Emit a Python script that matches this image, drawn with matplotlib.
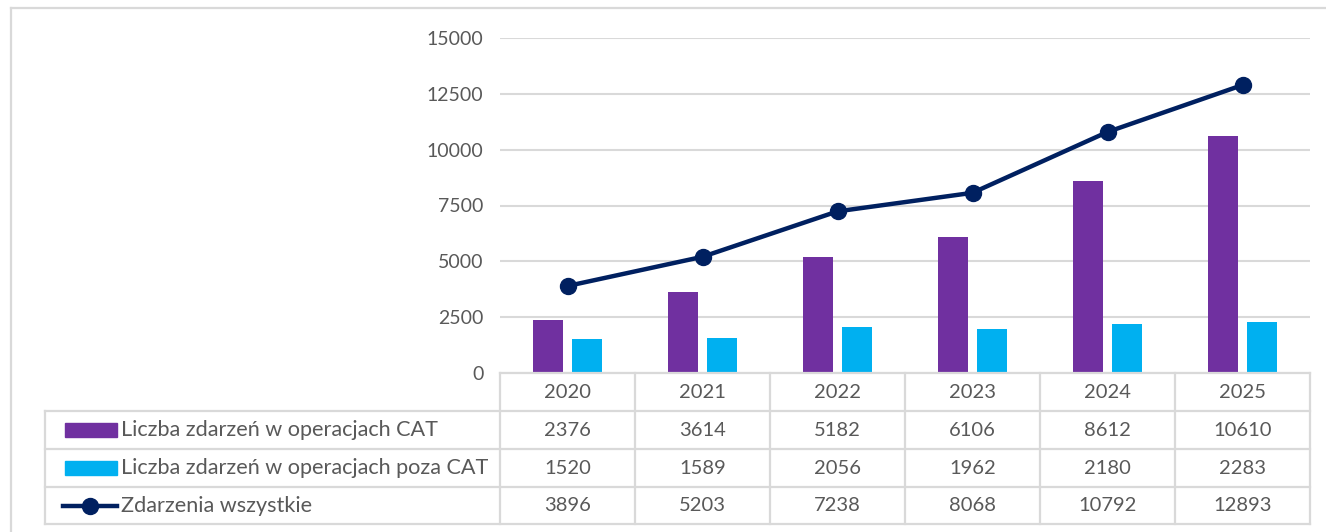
import numpy as np
import matplotlib
matplotlib.use("Agg")
import matplotlib.pyplot as plt
from matplotlib.patches import Rectangle
from matplotlib.lines import Line2D

# === Data ===
years = ["2020", "2021", "2022", "2023", "2024", "2025"]
cat_events = [2376, 3614, 5182, 6106, 8612, 10610]
non_cat_events = [1520, 1589, 2056, 1962, 2180, 2283]
all_events = [3896, 5203, 7238, 8068, 10792, 12893]
series_names = ["Liczba zdarzeń w operacjach CAT",
                "Liczba zdarzeń w operacjach poza CAT",
                "Zdarzenia wszystkie"]
y_ticks = [0, 2500, 5000, 7500, 10000, 12500, 15000]

PURPLE = "#7030A0"
CYAN = "#00B0F0"
NAVY = "#002060"
GRID = "#D9D9D9"
TXT = "#595959"

plt.rcParams['font.family'] = ['Lato', 'DejaVu Sans']

W, H = 1326, 532
fig = plt.figure(figsize=(W / 100, H / 100), dpi=100)

# plot area in pixels
px_left, px_right, px_top, px_bottom = 500, 1310, 38, 373
ax = fig.add_axes([px_left / W, 1 - px_bottom / H,
                   (px_right - px_left) / W, (px_bottom - px_top) / H])

x = np.arange(len(years))
bw = 0.222
ax.bar(x - 0.148, cat_events, width=bw, color=PURPLE, zorder=3)
ax.bar(x + 0.148, non_cat_events, width=bw, color=CYAN, zorder=3)
ax.plot(x, all_events, color=NAVY, lw=3.2, marker='o', ms=11.5, zorder=4)

ax.set_xlim(-0.5, len(years) - 0.5)
ax.set_ylim(0, 15000)
ax.set_yticks(y_ticks)
ax.set_yticklabels([str(v) for v in y_ticks], fontsize=14, color=TXT)
ax.tick_params(axis='y', length=0, pad=12)
ax.set_xticks([])
ax.grid(axis='y', color=GRID, lw=1.5, zorder=0)
for s in ax.spines.values():
    s.set_visible(False)

# === Overlay for data table and frame (pixel coordinates) ===
ov = fig.add_axes([0, 0, 1, 1], zorder=5)
ov.set_xlim(0, W)
ov.set_ylim(H, 0)
ov.axis('off')
ov.patch.set_alpha(0)

# outer frame
ov.plot([11, W], [8, 8], color=GRID, lw=1.6)
ov.plot([11, 11], [8, H], color=GRID, lw=1.6)

col_w = (px_right - px_left) / len(years)
col_edges = [px_left + i * col_w for i in range(len(years) + 1)]
row_edges = [373, 411, 449, 487, 524]
tab_left = 45

# horizontal lines
ov.plot([px_left, px_right], [row_edges[0], row_edges[0]], color=GRID, lw=1.6)
for ry in row_edges[1:]:
    ov.plot([tab_left, px_right], [ry, ry], color=GRID, lw=1.6)
# vertical lines
ov.plot([tab_left, tab_left], [row_edges[1], row_edges[-1]], color=GRID, lw=1.6)
for cx in col_edges:
    ov.plot([cx, cx], [row_edges[0], row_edges[-1]], color=GRID, lw=1.6)

fs = 14.5
for i, yr in enumerate(years):
    cx = (col_edges[i] + col_edges[i + 1]) / 2
    ov.text(cx, (row_edges[0] + row_edges[1]) / 2, yr, ha='center', va='center',
            fontsize=fs, color=TXT)
    for r, vals in enumerate([cat_events, non_cat_events, all_events]):
        cy = (row_edges[r + 1] + row_edges[r + 2]) / 2
        ov.text(cx, cy, str(vals[i]), ha='center', va='center', fontsize=fs, color=TXT)

# legend keys in table
for r, name in enumerate(series_names):
    cy = (row_edges[r + 1] + row_edges[r + 2]) / 2
    if r < 2:
        ov.add_patch(Rectangle((65, cy - 7), 52, 14, color=[PURPLE, CYAN][r]))
    else:
        ov.add_line(Line2D([63, 117], [cy, cy], color=NAVY, lw=3.2))
        ov.plot([90], [cy], marker='o', ms=11.5, color=NAVY)
    ov.text(121, cy, name, ha='left', va='center', fontsize=15.6, color=TXT)

fig.savefig("out.png", dpi=100)
